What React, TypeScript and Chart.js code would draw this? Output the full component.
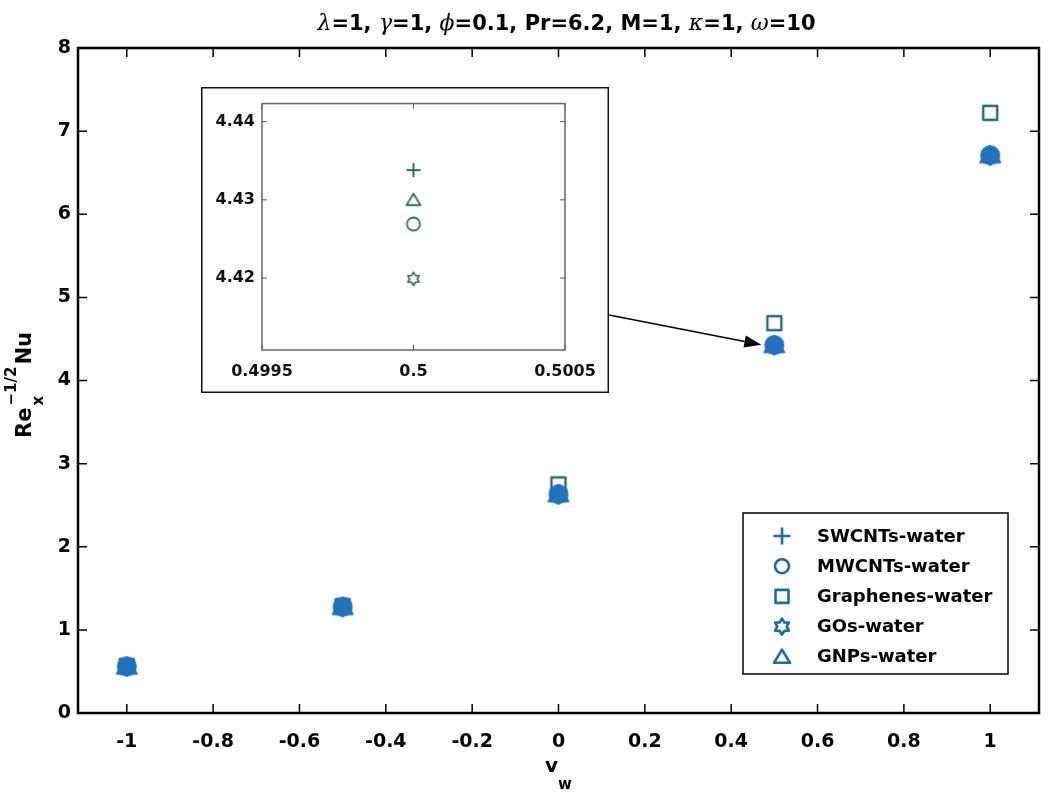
import React, { useEffect, useRef } from 'react';
import { Chart, registerables } from 'chart.js';

Chart.register(...registerables);

// ---------- data ----------
const X_VALUES = [-1, -0.5, 0, 0.5, 1];
const SERIES_NAMES = ['SWCNTs-water', 'MWCNTs-water', 'Graphenes-water', 'GOs-water', 'GNPs-water'];
const SWCNT_WATER = [0.565, 1.285, 2.64, 4.4338, 6.72];
const MWCNT_WATER = [0.56, 1.278, 2.632, 4.4269, 6.71];
const GRAPHENE_WATER = [0.565, 1.285, 2.75, 4.69, 7.22];
const GO_WATER = [0.555, 1.27, 2.625, 4.4199, 6.7];
const GNP_WATER = [0.562, 1.28, 2.636, 4.43, 6.715];

const X_TICKS = [-1, -0.8, -0.6, -0.4, -0.2, 0, 0.2, 0.4, 0.6, 0.8, 1];
const X_TICK_LABELS = ['-1', '-0.8', '-0.6', '-0.4', '-0.2', '0', '0.2', '0.4', '0.6', '0.8', '1'];
const Y_TICKS = [0, 1, 2, 3, 4, 5, 6, 7, 8];
const Y_TICK_LABELS = ['0', '1', '2', '3', '4', '5', '6', '7', '8'];

const INSET_X_TICKS = [0.4995, 0.5, 0.5005];
const INSET_X_TICK_LABELS = ['0.4995', '0.5', '0.5005'];
const INSET_Y_TICKS = [4.42, 4.43, 4.44];
const INSET_Y_TICK_LABELS = ['4.42', '4.43', '4.44'];
const INSET_INDEX = 3; // v_w = 0.5

const TITLE_PARTS: [string, boolean][] = [
  ['λ', true], ['=1, ', false], ['γ', true], ['=1, ', false], ['ϕ', true],
  ['=0.1, Pr=6.2, M=1, ', false], ['κ', true], ['=1, ', false], ['ω', true], ['=10', false],
];

// ---------- styles ----------
const FONT = '"DejaVu Sans", "Liberation Sans", sans-serif';
const SERIF = '"DejaVu Serif", "Liberation Serif", serif';
const BLUE_FILL = '#1f73c0';
const SQUARE_STROKE = '#2b6a6a';
const INSET_COLOR = '#2f6d5c';
const LEGEND_COLOR = '#1c6d98';

type Shape = 'plus' | 'circle' | 'square' | 'hexagram' | 'triangle';
const SHAPES: Shape[] = ['plus', 'circle', 'square', 'hexagram', 'triangle'];

function pathMarker(ctx: CanvasRenderingContext2D, shape: Shape, x: number, y: number, r: number) {
  ctx.beginPath();
  if (shape === 'plus') {
    ctx.moveTo(x - r, y); ctx.lineTo(x + r, y);
    ctx.moveTo(x, y - r); ctx.lineTo(x, y + r);
  } else if (shape === 'circle') {
    ctx.arc(x, y, r, 0, Math.PI * 2);
  } else if (shape === 'square') {
    ctx.rect(x - r, y - r, 2 * r, 2 * r);
  } else if (shape === 'triangle') {
    ctx.moveTo(x, y - 0.9 * r);
    ctx.lineTo(x + r, y + 0.75 * r);
    ctx.lineTo(x - r, y + 0.75 * r);
    ctx.closePath();
  } else {
    for (let k = 0; k < 12; k++) {
      const a = -Math.PI / 2 + (k * Math.PI) / 6;
      const rr = k % 2 === 0 ? r : r * 0.6;
      const px = x + rr * Math.cos(a);
      const py = y + rr * Math.sin(a);
      if (k === 0) ctx.moveTo(px, py); else ctx.lineTo(px, py);
    }
    ctx.closePath();
  }
}

function drawMarker(ctx: CanvasRenderingContext2D, shape: Shape, x: number, y: number, r: number,
  stroke: string, fill: string | null, lw: number) {
  pathMarker(ctx, shape, x, y, r);
  if (fill && shape !== 'plus') { ctx.fillStyle = fill; ctx.fill(); }
  ctx.strokeStyle = stroke; ctx.lineWidth = lw; ctx.lineJoin = 'round'; ctx.stroke();
}

function makeMarker(shape: Shape, r: number, stroke: string, fill: string | null, lw: number) {
  const c = document.createElement('canvas');
  const size = Math.ceil(r + lw + 2) * 2;
  c.width = size; c.height = size;
  const ctx = c.getContext('2d')!;
  drawMarker(ctx, shape, size / 2, size / 2, r, stroke, fill, lw);
  return c;
}

function inwardTicks(chart: any, len: number, color: string, lw: number) {
  const { ctx, chartArea: a, scales } = chart;
  ctx.save();
  ctx.strokeStyle = color; ctx.lineWidth = lw;
  ctx.beginPath();
  for (const t of scales.x.ticks) {
    const px = scales.x.getPixelForValue(t.value);
    ctx.moveTo(px, a.bottom); ctx.lineTo(px, a.bottom - len);
    ctx.moveTo(px, a.top); ctx.lineTo(px, a.top + len);
  }
  for (const t of scales.y.ticks) {
    const py = scales.y.getPixelForValue(t.value);
    ctx.moveTo(a.left, py); ctx.lineTo(a.left + len, py);
    ctx.moveTo(a.right, py); ctx.lineTo(a.right - len, py);
  }
  ctx.stroke();
  ctx.restore();
}

const mainPlugin = {
  id: 'mainDecor',
  beforeDraw(chart: any) {
    const ctx = chart.ctx;
    ctx.save(); ctx.fillStyle = '#fff'; ctx.fillRect(0, 0, chart.width, chart.height); ctx.restore();
  },
  afterDraw(chart: any) {
    const { ctx, chartArea: a, scales } = chart;
    inwardTicks(chart, 9, '#000', 1.5);
    ctx.save();
    ctx.strokeStyle = '#000'; ctx.lineWidth = 2.5;
    ctx.strokeRect(a.left, a.top, a.right - a.left, a.bottom - a.top);

    // title
    const cx = (a.left + a.right) / 2;
    const normalFont = 'bold 21px ' + FONT;
    const greekFont = 'italic 22px ' + SERIF;
    let total = 0;
    for (const [t, g] of TITLE_PARTS) { ctx.font = g ? greekFont : normalFont; total += ctx.measureText(t).width; }
    let tx = cx + 8 - total / 2;
    ctx.fillStyle = '#000'; ctx.textBaseline = 'alphabetic'; ctx.textAlign = 'left';
    for (const [t, g] of TITLE_PARTS) {
      ctx.font = g ? greekFont : normalFont;
      ctx.fillText(t, tx, 30);
      tx += ctx.measureText(t).width;
    }

    // x label v_w
    ctx.font = 'bold 20px ' + FONT;
    const vW = ctx.measureText('v').width;
    ctx.font = 'bold 15px ' + FONT;
    const wW = ctx.measureText('w').width;
    const xl = cx - (vW + wW) / 2;
    ctx.font = 'bold 20px ' + FONT; ctx.fillText('v', xl, 772);
    ctx.font = 'bold 15px ' + FONT; ctx.fillText('w', xl + vW, 789);

    // y label Re_x^{-1/2}Nu
    ctx.save();
    ctx.translate(31, 385);
    ctx.rotate(-Math.PI / 2);
    const big = 'bold 21px ' + FONT;
    const small = 'bold 15px ' + FONT;
    ctx.font = big; const reW = ctx.measureText('Re').width; const nuW = ctx.measureText('Nu').width;
    ctx.font = small; const supW = ctx.measureText('−1/2').width; const subW = ctx.measureText('x').width;
    const scriptW = Math.max(supW, subW);
    const tot = reW + 2 + scriptW + 2 + nuW;
    let ly = -tot / 2;
    ctx.font = big; ctx.fillText('Re', ly, 0);
    ly += reW + 2;
    ctx.font = small; ctx.fillText('−1/2', ly, -15); ctx.fillText('x', ly, 12);
    ly += scriptW + 2;
    ctx.font = big; ctx.fillText('Nu', ly, 0);
    ctx.restore();

    // arrow to the zoomed group
    const px = scales.x.getPixelForValue(X_VALUES[INSET_INDEX]);
    const py = scales.y.getPixelForValue(GNP_WATER[INSET_INDEX]);
    const x1 = 609, y1 = 315, x2 = px - 13, y2 = py;
    const ang = Math.atan2(y2 - y1, x2 - x1);
    const hl = 17, hw = 6;
    const bx = x2 - hl * Math.cos(ang), by = y2 - hl * Math.sin(ang);
    ctx.strokeStyle = '#000'; ctx.lineWidth = 1.5;
    ctx.beginPath(); ctx.moveTo(x1, y1); ctx.lineTo(bx, by); ctx.stroke();
    ctx.fillStyle = '#000';
    ctx.beginPath();
    ctx.moveTo(x2, y2);
    ctx.lineTo(bx - hw * Math.sin(ang), by + hw * Math.cos(ang));
    ctx.lineTo(bx + hw * Math.sin(ang), by - hw * Math.cos(ang));
    ctx.closePath(); ctx.fill();

    // legend
    const L = 743, T = 513, R = 1008, B = 674;
    ctx.fillStyle = '#fff'; ctx.fillRect(L, T, R - L, B - T);
    ctx.strokeStyle = '#000'; ctx.lineWidth = 1.5; ctx.strokeRect(L, T, R - L, B - T);
    const sizes = [8.5, 7, 6.5, 8, 8];
    ctx.font = 'bold 18px ' + FONT; ctx.textBaseline = 'middle'; ctx.textAlign = 'left';
    SERIES_NAMES.forEach((name, i) => {
      const yy = 536 + i * 30.2;
      drawMarker(ctx, SHAPES[i], 782, yy, sizes[i], LEGEND_COLOR, null, 2.6);
      ctx.fillStyle = '#000';
      ctx.fillText(name, 817, yy + 1);
    });
    ctx.restore();
  },
};

const insetPlugin = {
  id: 'insetDecor',
  beforeDraw(chart: any) {
    const ctx = chart.ctx;
    ctx.save(); ctx.fillStyle = '#fff'; ctx.fillRect(0, 0, chart.width, chart.height); ctx.restore();
  },
  afterDraw(chart: any) {
    const { ctx, chartArea: a } = chart;
    inwardTicks(chart, 5, '#555', 1);
    ctx.save();
    ctx.strokeStyle = '#666'; ctx.lineWidth = 1.5;
    ctx.strokeRect(a.left, a.top, a.right - a.left, a.bottom - a.top);
    ctx.strokeStyle = '#111'; ctx.lineWidth = 1.5;
    ctx.strokeRect(0.75, 0.75, chart.width - 1.5, chart.height - 1.5);
    ctx.restore();
  },
};

export default function App() {
  const mainRef = useRef<HTMLCanvasElement>(null);
  const insetRef = useRef<HTMLCanvasElement>(null);

  useEffect(() => {
    const seriesValues = [SWCNT_WATER, MWCNT_WATER, GRAPHENE_WATER, GO_WATER, GNP_WATER];
    const mainMarkers = [
      makeMarker('plus', 8, BLUE_FILL, null, 2.5),
      makeMarker('circle', 9, BLUE_FILL, BLUE_FILL, 2),
      makeMarker('square', 7, SQUARE_STROKE, null, 2.4),
      makeMarker('hexagram', 9, BLUE_FILL, BLUE_FILL, 2),
      makeMarker('triangle', 10, BLUE_FILL, BLUE_FILL, 2),
    ];
    const insetMarkers = [
      makeMarker('plus', 7, INSET_COLOR, null, 2),
      makeMarker('circle', 6.5, INSET_COLOR, null, 1.8),
      makeMarker('square', 6, INSET_COLOR, null, 1.8),
      makeMarker('hexagram', 6.5, INSET_COLOR, null, 1.7),
      makeMarker('triangle', 7, INSET_COLOR, null, 1.8),
    ];
    const drawOrder = [1, 0, 4, 3, 2];

    const tickFont = { family: FONT, size: 19, weight: 'bold' as const };

    const main = new Chart(mainRef.current!, {
      type: 'scatter',
      data: {
        datasets: SERIES_NAMES.map((name, i) => ({
          label: name,
          data: X_VALUES.map((x, j) => ({ x, y: seriesValues[i][j] })),
          pointStyle: mainMarkers[i] as any,
          pointRadius: 8,
          showLine: false,
          order: drawOrder[i],
        })),
      },
      options: {
        animation: false,
        responsive: false,
        events: [],
        layout: { padding: { top: 48, right: 6, left: 0, bottom: 0 } },
        plugins: { legend: { display: false }, tooltip: { enabled: false }, title: { display: false } },
        scales: {
          x: {
            type: 'linear', min: -1.113, max: 1.113,
            afterBuildTicks: (s: any) => { s.ticks = X_TICKS.map((v) => ({ value: v })); },
            afterFit: (s: any) => { s.height = 90; },
            ticks: { autoSkip: false, maxRotation: 0, padding: 18, color: '#000', font: tickFont,
              callback: (_v: any, i: number) => X_TICK_LABELS[i] },
            grid: { display: false, drawTicks: false },
            border: { display: false },
          },
          y: {
            type: 'linear', min: 0, max: 8,
            afterBuildTicks: (s: any) => { s.ticks = Y_TICKS.map((v) => ({ value: v })); },
            afterFit: (s: any) => { s.width = 78; },
            ticks: { autoSkip: false, padding: 7, color: '#000', font: tickFont,
              callback: (_v: any, i: number) => Y_TICK_LABELS[i] },
            grid: { display: false, drawTicks: false },
            border: { display: false },
          },
        },
      },
      plugins: [mainPlugin],
    });

    const insetFont = { family: FONT, size: 16, weight: 'bold' as const };
    const inset = new Chart(insetRef.current!, {
      type: 'scatter',
      data: {
        datasets: SERIES_NAMES.map((name, i) => ({
          label: name,
          data: [{ x: X_VALUES[INSET_INDEX], y: seriesValues[i][INSET_INDEX] }],
          pointStyle: insetMarkers[i] as any,
          pointRadius: 6,
          showLine: false,
          clip: 0,
        })),
      },
      options: {
        animation: false,
        responsive: false,
        events: [],
        layout: { padding: { top: 13, right: 44, left: 0, bottom: 0 } },
        plugins: { legend: { display: false }, tooltip: { enabled: false }, title: { display: false } },
        scales: {
          x: {
            type: 'linear', min: 0.4995, max: 0.5005,
            afterBuildTicks: (s: any) => { s.ticks = INSET_X_TICKS.map((v) => ({ value: v })); },
            afterFit: (s: any) => { s.height = 43; },
            ticks: { autoSkip: false, maxRotation: 0, padding: 12, color: '#111', font: insetFont,
              callback: (_v: any, i: number) => INSET_X_TICK_LABELS[i] },
            grid: { display: false, drawTicks: false },
            border: { display: false },
          },
          y: {
            type: 'linear', min: 4.4108, max: 4.4423,
            afterBuildTicks: (s: any) => { s.ticks = INSET_Y_TICKS.map((v) => ({ value: v })); },
            afterFit: (s: any) => { s.width = 61; },
            ticks: { autoSkip: false, padding: 7, color: '#111', font: insetFont,
              callback: (_v: any, i: number) => INSET_Y_TICK_LABELS[i] },
            grid: { display: false, drawTicks: false },
            border: { display: false },
          },
        },
      },
      plugins: [insetPlugin],
    });

    return () => { main.destroy(); inset.destroy(); };
  }, []);

  return (
    <div style={{ position: 'absolute', left: 0, top: 0, width: 1048, height: 803, background: '#fff' }}>
      <canvas ref={mainRef} width={1048} height={803} style={{ position: 'absolute', left: 0, top: 0 }} />
      <canvas ref={insetRef} width={408} height={306} style={{ position: 'absolute', left: 201, top: 87 }} />
    </div>
  );
}
